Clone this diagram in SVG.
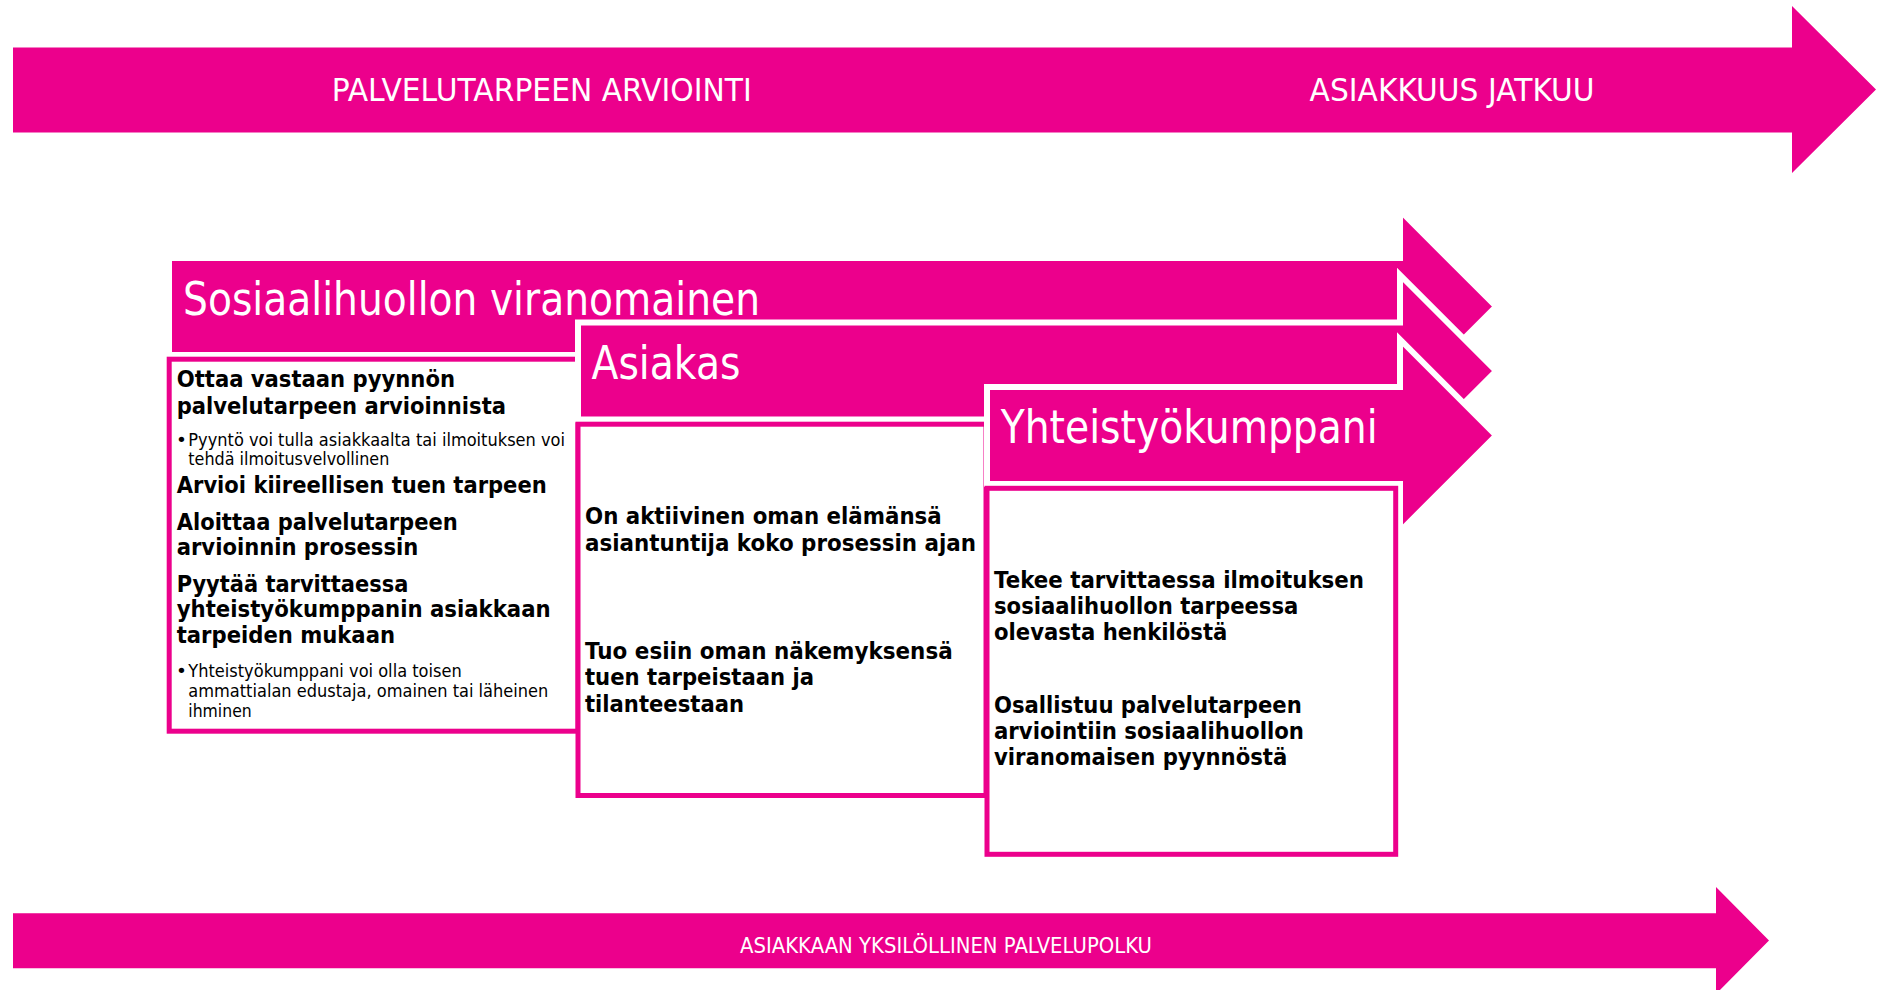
<svg xmlns="http://www.w3.org/2000/svg" width="1877" height="990" viewBox="0 0 1877 990">
<style>
.bar{fill:#EC008C}
.arr{fill:#EC008C;stroke:#FFFFFF;stroke-width:6;stroke-linejoin:miter;stroke-miterlimit:10}
.box{fill:#FFFFFF;stroke:#EC008C;stroke-width:5}
text{font-family:"DejaVu Sans",Verdana,sans-serif}
.wl{fill:#FFFFFF}
.ttl{fill:#FFFFFF;font-size:47px}
.b{fill:#000000;font-size:22.5px;font-weight:bold}
.s{fill:#000000;font-size:18.5px}
</style>
<rect width="1877" height="990" fill="#FFFFFF"/>
<g id="connectors">
  <path id="top-arrow" class="bar" d="M13,47.5 H1792 V6 L1876,89.5 L1792,173 V132.5 H13 Z"/>
  <path id="bottom-arrow" class="bar" d="M13,913.3 H1716 V887 L1769,940.5 L1716,994 V968.3 H13 Z"/>
</g>
<g id="top-labels">
  <text class="wl" x="331.7" y="100.7" font-size="32" textLength="420" lengthAdjust="spacingAndGlyphs">PALVELUTARPEEN ARVIOINTI</text>
  <text class="wl" x="1309.6" y="100.7" font-size="32" textLength="285" lengthAdjust="spacingAndGlyphs">ASIAKKUUS JATKUU</text>
</g>
<g id="bottom-label">
  <text class="wl" x="740" y="952.5" font-size="21" textLength="412" lengthAdjust="spacingAndGlyphs">ASIAKKAAN YKSILÖLLINEN PALVELUPOLKU</text>
</g>
<g id="node-sosiaalihuolto-arrow">
  <path class="arr" d="M169,258 H1400 V210.5 L1496,306.5 L1400,402.5 V355 H169 Z"/>
  <text class="ttl" x="183" y="314.5" textLength="577" lengthAdjust="spacingAndGlyphs">Sosiaalihuollon viranomainen</text>
</g>
<g id="node-sosiaalihuolto-box">
  <rect class="box" x="169.2" y="359.2" width="408.8" height="372"/>
  <text class="b" x="176.7" y="387.3" textLength="278.3" lengthAdjust="spacingAndGlyphs">Ottaa vastaan pyynnön</text>
  <text class="b" x="176.7" y="414" textLength="329.3" lengthAdjust="spacingAndGlyphs">palvelutarpeen arvioinnista</text>
  <text class="s" x="176" y="446">•</text>
  <text class="s" x="188.3" y="446" textLength="376.7" lengthAdjust="spacingAndGlyphs">Pyyntö voi tulla asiakkaalta tai ilmoituksen voi</text>
  <text class="s" x="188.3" y="465" textLength="201" lengthAdjust="spacingAndGlyphs">tehdä ilmoitusvelvollinen</text>
  <text class="b" x="176.7" y="493.3" textLength="370" lengthAdjust="spacingAndGlyphs">Arvioi kiireellisen tuen tarpeen</text>
  <text class="b" x="176.7" y="530" textLength="281" lengthAdjust="spacingAndGlyphs">Aloittaa palvelutarpeen</text>
  <text class="b" x="176.7" y="555" textLength="241.6" lengthAdjust="spacingAndGlyphs">arvioinnin prosessin</text>
  <text class="b" x="176.7" y="591.7" textLength="231.6" lengthAdjust="spacingAndGlyphs">Pyytää tarvittaessa</text>
  <text class="b" x="176.7" y="617.3" textLength="374" lengthAdjust="spacingAndGlyphs">yhteistyökumppanin asiakkaan</text>
  <text class="b" x="176.7" y="643.3" textLength="218.3" lengthAdjust="spacingAndGlyphs">tarpeiden mukaan</text>
  <text class="s" x="176" y="676.7">•</text>
  <text class="s" x="188.3" y="676.7" textLength="273.4" lengthAdjust="spacingAndGlyphs">Yhteistyökumppani voi olla toisen</text>
  <text class="s" x="188.3" y="696.7" textLength="360" lengthAdjust="spacingAndGlyphs">ammattialan edustaja, omainen tai läheinen</text>
  <text class="s" x="188.3" y="716.7" textLength="63.4" lengthAdjust="spacingAndGlyphs">ihminen</text>
</g>
<g id="node-asiakas-arrow">
  <path class="arr" d="M578,322.5 H1400 V275 L1496,371 L1400,467 V419.5 H578 Z"/>
  <text class="ttl" x="591.5" y="378.5" textLength="149" lengthAdjust="spacingAndGlyphs">Asiakas</text>
</g>
<g id="node-asiakas-box">
  <rect class="box" x="578" y="424.2" width="408" height="371.3"/>
  <text class="b" x="585" y="524" textLength="356.7" lengthAdjust="spacingAndGlyphs">On aktiivinen oman elämänsä</text>
  <text class="b" x="585" y="550.7" textLength="391" lengthAdjust="spacingAndGlyphs">asiantuntija koko prosessin ajan</text>
  <text class="b" x="585" y="659.3" textLength="367.7" lengthAdjust="spacingAndGlyphs">Tuo esiin oman näkemyksensä</text>
  <text class="b" x="585" y="685" textLength="229" lengthAdjust="spacingAndGlyphs">tuen tarpeistaan ja</text>
  <text class="b" x="585" y="711.7" textLength="159" lengthAdjust="spacingAndGlyphs">tilanteestaan</text>
</g>
<g id="node-yhteistyokumppani-arrow">
  <path class="arr" d="M987,387 H1400 V339.5 L1496,435.5 L1400,531.5 V484 H987 Z"/>
  <text class="ttl" x="1000.7" y="443" textLength="377" lengthAdjust="spacingAndGlyphs">Yhteistyökumppani</text>
</g>
<g id="node-yhteistyokumppani-box">
  <rect class="box" x="987" y="488.3" width="408.7" height="366"/>
  <text class="b" x="994" y="588.3" textLength="370" lengthAdjust="spacingAndGlyphs">Tekee tarvittaessa ilmoituksen</text>
  <text class="b" x="994" y="614.3" textLength="304.3" lengthAdjust="spacingAndGlyphs">sosiaalihuollon tarpeessa</text>
  <text class="b" x="994" y="640" textLength="233.3" lengthAdjust="spacingAndGlyphs">olevasta henkilöstä</text>
  <text class="b" x="994" y="713.3" textLength="307.7" lengthAdjust="spacingAndGlyphs">Osallistuu palvelutarpeen</text>
  <text class="b" x="994" y="739.3" textLength="310" lengthAdjust="spacingAndGlyphs">arviointiin sosiaalihuollon</text>
  <text class="b" x="994" y="765" textLength="293.3" lengthAdjust="spacingAndGlyphs">viranomaisen pyynnöstä</text>
</g>
</svg>
